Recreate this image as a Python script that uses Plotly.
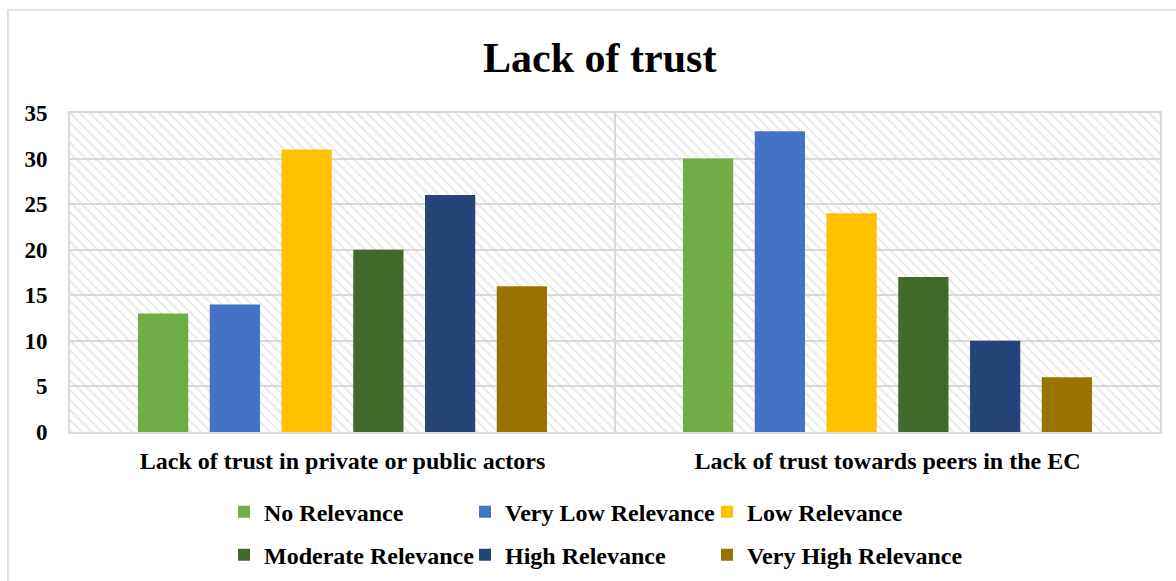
import plotly.graph_objects as go

categories = ["Lack of trust in private or public actors", "Lack of trust towards peers in the EC"]
series_names = ["No Relevance", "Very Low Relevance", "Low Relevance",
                "Moderate Relevance", "High Relevance", "Very High Relevance"]
no_rel = [13, 30]
very_low = [14, 33]
low = [31, 24]
moderate = [20, 17]
high = [26, 10]
very_high = [16, 6]
y_ticks = [0, 5, 10, 15, 20, 25, 30, 35]

colors = ["#70AD47", "#4472C4", "#FFC000", "#43682B", "#264478", "#997300"]
values = [no_rel, very_low, low, moderate, high, very_high]
FONT = "Liberation Serif"

fig = go.Figure()

# hatched plot background (Excel-style pattern fill), on the lower subplot
fig.add_trace(go.Scatter(
    x=[0, 0, 1, 1, 0], y=[0, 1, 1, 0, 0], mode="lines",
    fill="toself", fillcolor="rgba(0,0,0,0)", line=dict(width=0),
    fillpattern=dict(shape="\\", fgcolor="#d4d4d4", bgcolor="rgba(0,0,0,0)",
                     size=7, solidity=0.3),
    showlegend=False, hoverinfo="skip", xaxis="x", yaxis="y",
))

# one small legend per entry so the 3x2 grid lines up like the Excel one
legend_ids = ["legend", "legend2", "legend3", "legend4", "legend5", "legend6"]
col_x = [0.1413, 0.3624, 0.5844]   # paper
row_y = [-0.251, -0.386]           # paper

legends = {}
for i, (name, vals) in enumerate(zip(series_names, values)):
    fig.add_trace(go.Bar(
        x=categories, y=vals, name=f"<b>{name}</b>", marker_color=colors[i],
        marker_line_width=0, xaxis="x2", yaxis="y2", legend=legend_ids[i],
    ))
    legends[legend_ids[i]] = dict(
        x=col_x[i % 3], y=row_y[i // 3],
        xanchor="left", yanchor="middle",
        font=dict(size=24, family=FONT), bgcolor="rgba(0,0,0,0)",
    )

fig.update_layout(
    width=1176, height=581,
    paper_bgcolor="white", plot_bgcolor="white",
    margin=dict(l=70, r=16, t=113, b=149, autoexpand=False),
    font=dict(family=FONT, color="black", size=24),
    title=dict(text="<b>Lack of trust</b>", x=0.51, xanchor="center",
               y=0.902, yanchor="middle", font=dict(size=42, family=FONT)),
    barmode="group", bargap=0.21, bargroupgap=0.3,
    xaxis=dict(range=[0, 1], visible=False, fixedrange=True),
    yaxis=dict(range=[0, 1], visible=False, fixedrange=True),
    xaxis2=dict(overlaying="x", type="category", range=[-0.5, 1.5],
                tickson="boundaries", showgrid=True, gridcolor="#d9d9d9", gridwidth=2,
                ticks="", showline=True, linecolor="#d9d9d9", linewidth=2, mirror=True,
                tickvals=categories, ticktext=[f"<b>{c}</b>" for c in categories],
                tickfont=dict(size=24, family=FONT), ticklabelstandoff=6),
    yaxis2=dict(overlaying="y", range=[0, 35], tickvals=y_ticks,
                ticktext=[f"<b>{v}</b>" for v in y_ticks],
                showgrid=True, gridcolor="#d9d9d9", gridwidth=2,
                showline=True, linecolor="#d9d9d9", linewidth=2, mirror=True,
                ticks="", zeroline=False, ticklabelstandoff=16,
                tickfont=dict(size=23, family=FONT)),
    shapes=[dict(type="rect", xref="paper", yref="paper", x0=-0.0569, x1=1.03,
                 y0=-0.6, y1=1.323, line=dict(color="#d9d9d9", width=1.5),
                 fillcolor="rgba(0,0,0,0)", layer="below")],
    **legends,
)

fig.write_html("out.html", config={"displayModeBar": False},
               post_script="document.body.style.margin='0';")
